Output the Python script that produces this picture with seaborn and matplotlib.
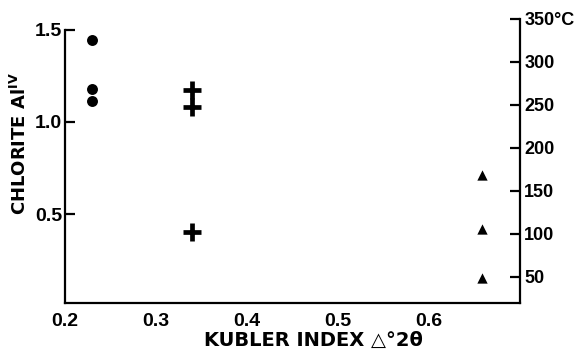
import matplotlib
matplotlib.use("Agg")
import matplotlib.pyplot as plt
import seaborn as sns
import pandas as pd
from matplotlib import font_manager

sns.set_theme(style="white")

names = {f.name for f in font_manager.fontManager.ttflist}
narrow = "Liberation Sans Narrow" if "Liberation Sans Narrow" in names else "Liberation Sans"
wide = "DejaVu Sans"
plt.rcParams['font.family'] = ['DejaVu Sans']

# Data
circle_x = [0.23, 0.23, 0.23]
circle_y = [1.443, 1.178, 1.112]
cross_x = [0.34, 0.34, 0.34]
cross_y = [1.173, 1.083, 0.404]
tri_x = [0.658, 0.658, 0.658]
tri_y = [0.714, 0.417, 0.152]

x_ticks = [0.2, 0.3, 0.4, 0.5, 0.6]
x_ticklabels = ["0.2", "0.3", "0.4", "0.5", "0.6"]
y_ticks = [0.5, 1.0, 1.5]
y_ticklabels = ["0.5", "1.0", "1.5"]
t_ticks = [50, 100, 150, 200, 250, 300, 350]
t_ticklabels = ["50", "100", "150", "200", "250", "300", "350°C"]

df_c = pd.DataFrame({"x": circle_x, "y": circle_y})
df_p = pd.DataFrame({"x": cross_x, "y": cross_y})
df_t = pd.DataFrame({"x": tri_x, "y": tri_y})

fig = plt.figure(figsize=(5.78, 3.56), dpi=100)
ax = fig.add_axes([65/578, 1-303.3/356, (520-65)/578, (303.3-19)/356])

sns.scatterplot(data=df_c, x="x", y="y", ax=ax, marker="o", s=62, color="black",
                edgecolor="black", linewidth=0)
sns.scatterplot(data=df_p, x="x", y="y", ax=ax, marker="+", s=170, color="black",
                linewidth=3.4)
sns.scatterplot(data=df_t, x="x", y="y", ax=ax, marker="^", s=55, color="black",
                edgecolor="black", linewidth=0)

ax.set_xlim(0.2, 0.7)
ax.set_ylim(0.017, 1.557)
ax.set_xticks(x_ticks)
ax.set_xticklabels(x_ticklabels)
ax.set_yticks(y_ticks)
ax.set_yticklabels(y_ticklabels)

for s in ["top", "right"]:
    ax.spines[s].set_visible(False)
for s in ["left", "bottom"]:
    ax.spines[s].set_color("black")
    ax.spines[s].set_linewidth(1.6)
ax.spines["left"].set_bounds(0.017, 1.5)

ax.tick_params(axis="both", direction="in", length=7, width=1.6, color="black",
               labelcolor="black")
ax.tick_params(axis="x", pad=7)
ax.tick_params(axis="y", pad=2)
for lab in ax.get_xticklabels() + ax.get_yticklabels():
    lab.set_fontfamily(narrow)
    lab.set_fontweight("bold")
    lab.set_fontsize(14)

ax.set_xlabel("KUBLER INDEX △°2θ", fontsize=14, fontweight="bold", color="black",
              family=[wide])
ax.xaxis.set_label_coords((313-65)/455, -(340-303.3)/284.3)
ax.xaxis.label.set_va("center")
ax.set_ylabel("CHLORITE Al$^{\\mathbf{IV}}$", fontsize=13, fontweight="bold", color="black",
              family=[wide])
ax.yaxis.set_label_coords(-(65-20)/455, (303.3-143)/284.3)
ax.yaxis.label.set_va("center")

ax2 = ax.twinx()
ax2.set_ylim(19, 350)
ax2.set_yticks(t_ticks)
ax2.set_yticklabels(t_ticklabels)
for s in ["top", "left", "bottom"]:
    ax2.spines[s].set_visible(False)
ax2.spines["right"].set_color("black")
ax2.spines["right"].set_linewidth(1.6)
ax2.tick_params(axis="y", direction="in", length=7, width=1.6, color="black",
                labelcolor="black", pad=3)
for lab in ax2.get_yticklabels():
    lab.set_fontfamily(narrow)
    lab.set_fontweight("bold")
    lab.set_fontsize(13)
ax2.grid(False)
ax.grid(False)

fig.savefig("out.png", dpi=100)
